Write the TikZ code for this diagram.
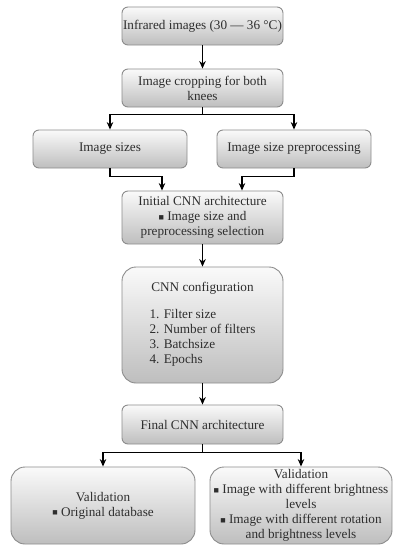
\documentclass[tikz,border=0pt]{standalone}
\usepackage{fontspec}
\setmainfont{Liberation Serif}
\usetikzlibrary{arrows.meta,calc}
\definecolor{boxborder}{HTML}{8C8C8C}
\definecolor{boxtop}{HTML}{FAFAFA}
\definecolor{boxbot}{HTML}{BEBEBE}
\definecolor{txt}{HTML}{2E2E2E}
\tikzset{
  box/.style={draw=boxborder, line width=0.9pt, rounded corners=6pt,
    top color=boxtop, bottom color=boxbot, align=center, text=txt,
    font=\fontsize{13.2}{15}\selectfont, inner sep=1pt},
  bigbox/.style={box, rounded corners=14pt},
  arr/.style={line width=1.4pt, -{Stealth[length=7.5pt,width=6.5pt]}},
  ln/.style={line width=1.4pt}
}
\newcommand{\sq}{{\fontsize{9}{9}\selectfont\raisebox{0.5pt}{■}}}
\begin{document}
\begin{tikzpicture}[x=1pt,y=-1pt]
\useasboundingbox (0,0) rectangle (401,550);
\node[box, minimum width=161pt, minimum height=38pt] (b1) at (202.5,26) {Infrared images (30 — 36 °C)};
\node[box, minimum width=161pt, minimum height=38pt] (b2) at (202.5,88) {Image cropping for both\\knees};
\node[box, minimum width=154pt, minimum height=38pt] (b3l) at (110,149) {Image sizes};
\node[box, minimum width=154pt, minimum height=38pt] (b3r) at (294,149) {Image size preprocessing};
\node[box, minimum width=161pt, minimum height=53pt] (b4) at (202.5,217.5) {Initial CNN architecture\\\sq{} Image size and\\preprocessing selection};
\node[bigbox, minimum width=161pt, minimum height=116pt] (b5) at (202.5,325) {CNN configuration\\[13pt]\begin{tabular}{@{}l@{}}1. Filter size\\2. Number of filters\\3. Batchsize\\4. Epochs\end{tabular}};
\node[box, minimum width=161pt, minimum height=39pt] (b6) at (202.5,424.5) {Final CNN architecture};
\node[bigbox, minimum width=184pt, minimum height=77pt] (b7l) at (103,505.5) {Validation\\\sq{} Original database};
\node[bigbox, minimum width=182pt, minimum height=77pt] (b7r) at (301,505.5) {Validation\\\sq{} Image with different brightness\\levels\\\sq{} Image with different rotation\\and brightness levels};
\draw[arr] (b1) -- (b2);
\draw[ln] (b2.south) -- ++(0,7) coordinate (j1);
\draw[arr] (j1) -| (b3l.north);
\draw[arr] (j1) -| (b3r.north);
\draw[arr] (b3l.south) -- ++(0,8) -| ([xshift=-40.5pt]b4.north);
\draw[arr] (b3r.south) -- ++(0,8) -| ([xshift=39.5pt]b4.north);
\draw[arr] (b4) -- (b5);
\draw[arr] (b5) -- (b6);
\draw[ln] (b6.south) -- ++(0,8) coordinate (j2);
\draw[arr] (j2) -| (b7l.north);
\draw[arr] (j2) -| (b7r.north);
\end{tikzpicture}
\end{document}
